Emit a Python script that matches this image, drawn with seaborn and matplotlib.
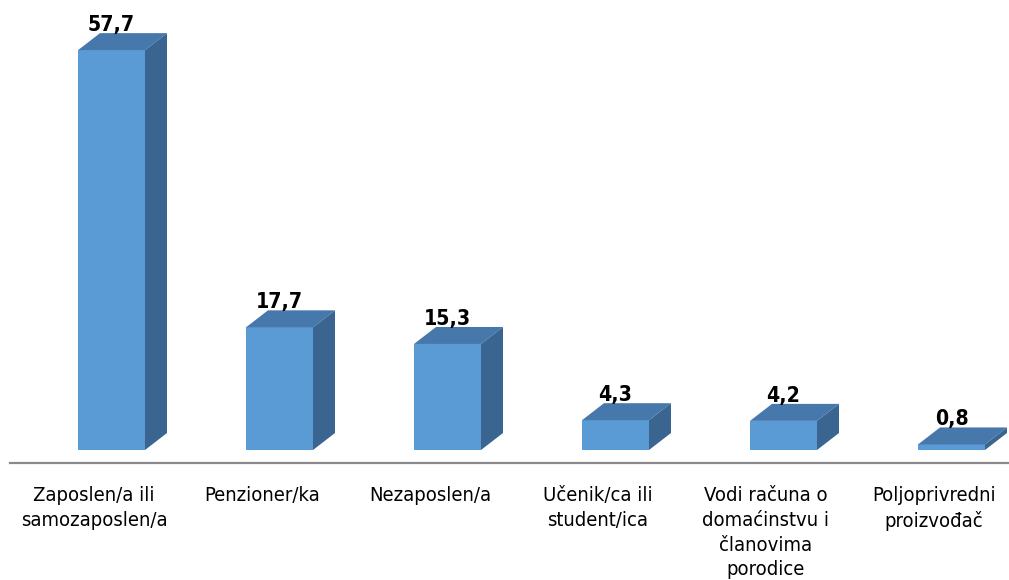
import matplotlib
matplotlib.use("Agg")
import matplotlib.pyplot as plt
from matplotlib.patches import Polygon
import seaborn as sns
import pandas as pd

categories = [
    "Zaposlen/a ili\nsamozaposlen/a",
    "Penzioner/ka",
    "Nezaposlen/a",
    "Učenik/ca ili\nstudent/ica",
    "Vodi računa o\ndomaćinstvu i\nčlanovima\nporodice",
    "Poljoprivredni\nproizvođač",
]
values = [57.7, 17.7, 15.3, 4.3, 4.2, 0.8]
value_labels = ["57,7", "17,7", "15,3", "4,3", "4,2", "0,8"]

FRONT = "#5B9BD5"
TOP = "#4778AB"
SIDE = "#3A6591"

sns.set_theme(style="white")
plt.rcParams["font.family"] = ["DejaVu Sans"]

W, H = 1009, 580
fig = plt.figure(figsize=(W / 100, H / 100), dpi=100)

# axes: left edge at x=10px, floor line at y=463px from the top
ax_left, ax_bottom = 10, H - 463
ax_w, ax_h = 6 * 168, 463
ax = fig.add_axes([ax_left / W, ax_bottom / H, ax_w / W, ax_h / H])

px_per_unit = 6.93
floor_gap = 13  # px between bar bottoms and the floor line
ymin = -floor_gap / px_per_unit
ymax = ymin + ax_h / px_per_unit

df = pd.DataFrame({"cat": categories, "val": values})
sns.barplot(data=df, x="cat", y="val", color=FRONT, saturation=1,
            width=67 / 168, ax=ax, zorder=3)

ax.set_xlim(-0.5, 5.5)
ax.set_ylim(ymin, ymax)

shift = 17.5 / 168          # front faces sit right of category centre
dx = 22 / 168               # depth offset (x, category units)
dy = 17 / px_per_unit       # depth offset (y, value units)

for p, lab in zip(ax.patches, value_labels):
    p.set_x(p.get_x() + shift)
    p.set_edgecolor("none")
    x0 = p.get_x()
    x1 = x0 + p.get_width()
    h = p.get_height()
    top = Polygon([(x0, h), (x1, h), (x1 + dx, h + dy), (x0 + dx, h + dy)],
                  closed=True, facecolor=TOP, edgecolor="none", zorder=4)
    side = Polygon([(x1, 0), (x1 + dx, dy), (x1 + dx, h + dy), (x1, h)],
                   closed=True, facecolor=SIDE, edgecolor="none", zorder=4)
    ax.add_patch(top)
    ax.add_patch(side)
    ax.text((x0 + x1) / 2, h + dy + 2 / px_per_unit, lab, ha="center",
            va="baseline", fontsize=15.2, fontweight="bold",
            fontstretch="condensed", color="black", zorder=5)

# axis styling
for s in ["top", "right", "left"]:
    ax.spines[s].set_visible(False)
ax.spines["bottom"].set_color("#8A8A8A")
ax.spines["bottom"].set_linewidth(1.6)
ax.set_yticks([])
ax.set_xlabel("")
ax.set_ylabel("")

ax.set_xticks(range(len(categories)))
ax.set_xticklabels(categories, fontsize=14.5, fontstretch="condensed",
                   linespacing=1.39)
ax.set_xticks([i - 0.5 for i in range(len(categories) + 1)], minor=True)
ax.tick_params(axis="x", which="major", length=0, pad=16.5, colors="black")
ax.tick_params(axis="x", which="minor", length=7, width=1.6,
               color="#8A8A8A", direction="out")
ax.grid(False)

fig.savefig("out.png", dpi=100)
